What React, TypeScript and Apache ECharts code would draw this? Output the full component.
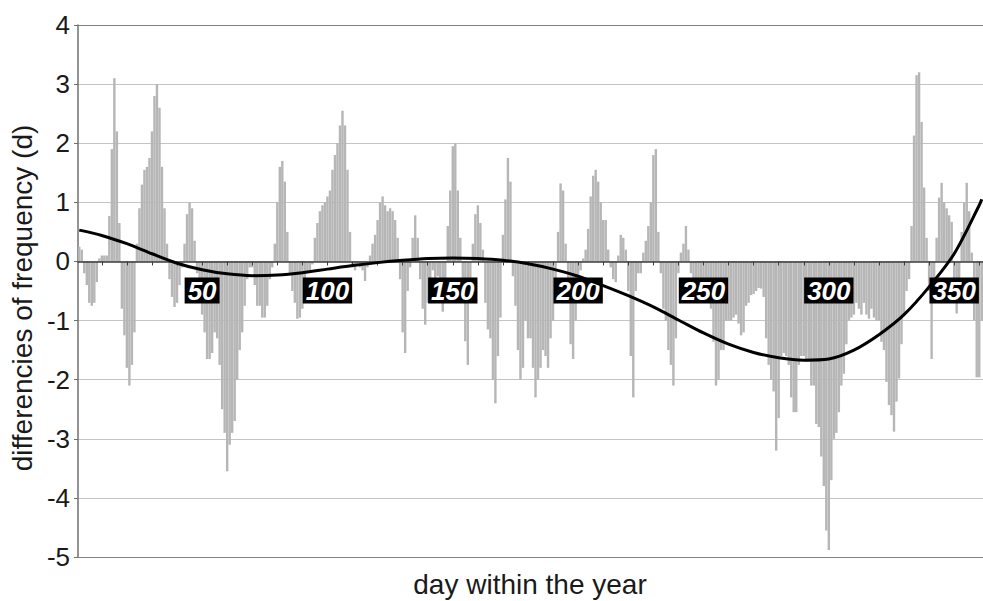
import React, { useEffect, useRef } from 'react';
import * as echarts from 'echarts';

const FONT = 'Arial, "Liberation Sans", Helvetica, sans-serif';

// differences of frequency per day (days 1..361)
const DAYS_001_050 = [
  0.25, 0.2, -0.2, -0.4, -0.7, -0.75, -0.7, -0.35, 0.05, 0.1,
  0.1, 0.1, 0.77, 1.9, 3.1, 2.2, 0.65, -0.8, -1.25, -1.8,
  -2.1, -1.75, -1.2, 0.3, 0.9, 1.3, 1.55, 1.6, 1.75, 2.2,
  2.8, 3.0, 2.6, 1.6, 0.9, 0.3, -0.3, -0.6, -0.77, -0.7,
  -0.4, -0.1, 0.3, 0.8, 1.0, 0.9, 0.35, -0.2, -0.5, -0.9,
];
const DAYS_051_100 = [
  -1.2, -1.65, -1.65, -1.55, -1.2, -1.3, -1.75, -2.5, -2.9, -3.55,
  -3.1, -2.9, -2.7, -2.0, -1.5, -1.2, -0.75, -0.3, -0.1, -0.1,
  -0.4, -0.75, -0.75, -0.95, -0.95, -0.75, -0.3, -0.1, 0.3, 1.0,
  1.6, 1.7, 1.35, 0.5, -0.2, -0.5, -0.7, -0.97, -0.95, -0.8,
  -0.5, -0.2, -0.15, -0.05, 0.4, 0.65, 0.85, 0.95, 1.0, 1.1,
];
const DAYS_101_150 = [
  1.2, 1.55, 1.8, 2.0, 2.3, 2.55, 2.3, 1.55, 0.5, -0.1,
  -0.15, -0.05, -0.1, -0.15, -0.33, -0.1, 0.1, 0.3, 0.45, 0.7,
  1.0, 1.1, 0.95, 0.85, 0.9, 0.85, 0.7, 0.4, -0.3, -1.2,
  -1.55, -0.5, -0.1, 0.4, 0.78, 0.4, -0.3, -0.8, -1.07, -0.7,
  -0.3, -0.15, -0.4, -0.25, -0.5, -0.85, -0.3, 0.6, 1.2, 1.95,
];
const DAYS_151_200 = [
  2.0, 1.2, 0.4, -0.6, -1.35, -1.75, -0.5, 0.3, 0.8, 0.95,
  0.65, 0.2, -0.7, -1.15, -1.3, -2.0, -2.4, -1.6, -0.95, 0.45,
  1.05, 1.75, 1.35, -0.25, -0.75, -1.5, -2.0, -1.8, -1.0, -1.3,
  -1.3, -1.8, -2.3, -2.0, -1.8, -1.5, -1.6, -1.8, -1.3, -1.0,
  -0.7, 0.5, 1.32, 1.2, 0.3, -0.6, -1.4, -1.65, -1.0, -0.5,
];
const DAYS_201_250 = [
  -0.15, 0.05, 0.2, 0.55, 1.1, 1.45, 1.55, 1.35, 1.0, 0.7,
  0.7, 0.2, -0.1, -0.3, -0.35, 0.1, 0.45, 0.4, 0.2, -0.5,
  -1.6, -2.3, -0.5, -0.2, -0.2, 0.15, 0.35, 0.6, 1.0, 1.8,
  1.9, 0.5, -0.2, -0.8, -1.0, -1.5, -1.75, -2.1, -1.3, -0.2,
  0.15, 0.3, 0.6, 0.2, -0.2, -0.3, -0.35, -0.4, -0.45, -0.5,
];
const DAYS_251_300 = [
  -0.55, -0.65, -0.8, -1.36, -2.1, -2.0, -1.5, -1.5, -1.0, -1.0,
  -1.0, -0.95, -0.9, -1.05, -1.25, -1.2, -0.75, -0.7, -0.57, -0.55,
  -0.5, -0.45, -0.46, -0.6, -1.3, -1.75, -2.0, -2.2, -3.2, -2.65,
  -1.6, -1.55, -1.6, -1.75, -2.3, -2.55, -2.55, -1.75, -1.6, -1.6,
  -1.7, -1.7, -2.1, -2.1, -2.75, -2.8, -3.3, -3.8, -4.55, -4.88,
];
const DAYS_301_350 = [
  -3.7, -3.0, -2.9, -2.55, -2.1, -1.9, -1.4, -1.0, -0.95, -0.9,
  -0.7, -0.8, -0.9, -0.7, -0.9, -0.97, -0.8, -0.95, -1.0, -1.0,
  -1.36, -1.5, -2.04, -2.43, -2.6, -2.88, -2.37, -1.98, -1.4, -0.9,
  -0.5, -0.3, 0.6, 2.13, 3.15, 3.2, 2.36, 1.25, 0.4, -0.5,
  -1.65, -0.3, 0.4, 1.08, 1.33, 1.0, 0.9, 0.78, 0.67, -0.44,
];
const DAYS_351_361 = [-0.88, -0.3, 0.5, 1.0, 1.33, 0.85, 0.15, -1.0, -1.96, -1.96, -1.0];

const DIFFERENCES = [
  ...DAYS_001_050, ...DAYS_051_100, ...DAYS_101_150, ...DAYS_151_200,
  ...DAYS_201_250, ...DAYS_251_300, ...DAYS_301_350, ...DAYS_351_361,
];
const DAY_LABELS = DIFFERENCES.map((_, i) => String(i + 1));

// trend curve, every 10 days
const TREND_DAYS = [1, 10, 20, 30, 40, 50, 60, 70, 80, 90, 100, 110, 120, 130, 140, 150, 160, 170, 180, 190, 200, 210, 220, 230, 240, 250, 260, 270, 280, 290, 300, 310, 320, 330, 340, 350, 360, 361];
const TREND_VALUES = [0.53, 0.44, 0.3, 0.13, -0.03, -0.14, -0.21, -0.24, -0.23, -0.19, -0.13, -0.07, -0.02, 0.02, 0.05, 0.06, 0.05, 0.02, -0.04, -0.13, -0.25, -0.41, -0.58, -0.77, -0.99, -1.21, -1.4, -1.54, -1.63, -1.67, -1.65, -1.5, -1.24, -0.9, -0.43, 0.13, 0.95, 1.05];

const Y_MIN = -5;
const Y_MAX = 4;
const GRID_TOP = 25;
const GRID_BOTTOM = 44;
const HEIGHT = 601;

export default function App() {
  const ref = useRef<HTMLDivElement>(null);
  useEffect(() => {
    const chart = echarts.init(ref.current as HTMLDivElement, null, { renderer: 'svg' });
    const nLines = Y_MAX - Y_MIN + 1;
    const splitColors = Array.from({ length: nLines }, (_, i) =>
      i === 0 || i === nLines - 1 ? '#808080' : '#c4c4c4'
    );
    const plotH = HEIGHT - GRID_TOP - GRID_BOTTOM;
    const zeroOffset = -((0 - Y_MIN) / (Y_MAX - Y_MIN)) * plotH;
    chart.setOption({
      animation: false,
      backgroundColor: '#ffffff',
      grid: { left: 78, right: 0, top: GRID_TOP, bottom: GRID_BOTTOM, containLabel: false },
      xAxis: {
        type: 'category',
        data: DAY_LABELS,
        boundaryGap: true,
        position: 'bottom',
        offset: zeroOffset,
        z: 3,
        axisLine: { show: true, onZero: false, lineStyle: { color: '#3c3c3c', width: 1.5 } },
        axisTick: {
          show: true,
          alignWithLabel: true,
          length: 4,
          interval: (i: number) => (i + 1) % 10 === 0,
          lineStyle: { color: '#3c3c3c' },
        },
        axisLabel: {
          interval: (_i: number, v: string) => Number(v) % 50 === 0,
          margin: 16,
          color: '#ffffff',
          backgroundColor: '#000000',
          fontSize: 26,
          fontWeight: 'bold',
          fontStyle: 'italic',
          fontFamily: FONT,
          padding: [1, 3, 0, 3],
          lineHeight: 25,
        },
        splitLine: { show: false },
      },
      yAxis: {
        type: 'value',
        min: Y_MIN,
        max: Y_MAX,
        interval: 1,
        axisLine: { show: true, lineStyle: { color: '#707070', width: 1.5 } },
        axisTick: { show: true, length: 4, lineStyle: { color: '#707070' } },
        axisLabel: { color: '#1a1a1a', fontSize: 26, fontFamily: FONT, margin: 8 },
        splitLine: { show: true, lineStyle: { color: splitColors, width: 1 } },
      },
      series: [
        {
          type: 'bar',
          data: DIFFERENCES,
          barCategoryGap: '4%',
          itemStyle: { color: '#b6b6b6' },
          z: 2,
        },
        {
          type: 'line',
          data: TREND_DAYS.map((d, i) => [d - 1, TREND_VALUES[i]]),
          smooth: 0.3,
          symbol: 'none',
          lineStyle: { color: '#000000', width: 3 },
          z: 5,
        },
      ],
      graphic: [
        {
          type: 'text',
          x: 22,
          y: 298,
          rotation: Math.PI / 2,
          style: {
            text: 'differencies of frequency (d)',
            fontSize: 28,
            fontFamily: FONT,
            fill: '#1a1a1a',
            align: 'center',
            verticalAlign: 'middle',
          },
        },
        {
          type: 'text',
          x: 530,
          y: 584,
          style: {
            text: 'day within the year',
            fontSize: 28,
            fontFamily: FONT,
            fill: '#1a1a1a',
            align: 'center',
            verticalAlign: 'middle',
          },
        },
      ],
    });
    return () => chart.dispose();
  }, []);
  return (
    <div
      ref={ref}
      style={{ position: 'fixed', left: 0, top: 0, width: 983, height: 601, background: '#fff' }}
    />
  );
}
